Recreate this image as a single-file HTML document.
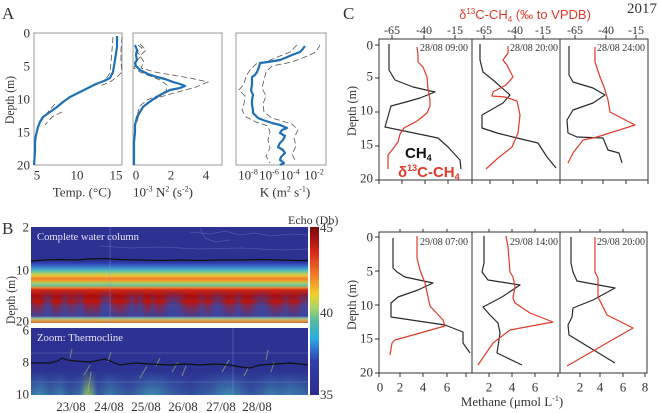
<!DOCTYPE html>
<html><head><meta charset="utf-8"><style>
html,body{margin:0;padding:0;background:#fff;}
svg{display:block;}
.s{font-family:"Liberation Serif",serif;fill:#333;}
.a{font-family:"Liberation Sans",sans-serif;}
</style></head><body>
<svg width="658" height="413" viewBox="0 0 658 413" xmlns="http://www.w3.org/2000/svg">
<defs>
<linearGradient id="cb" x1="0" y1="0" x2="0" y2="1">
 <stop offset="0" stop-color="#7a0a0a"/>
 <stop offset="0.06" stop-color="#a01010"/>
 <stop offset="0.15" stop-color="#d82818"/>
 <stop offset="0.28" stop-color="#f07828"/>
 <stop offset="0.4" stop-color="#f0d028"/>
 <stop offset="0.48" stop-color="#a8d468"/>
 <stop offset="0.57" stop-color="#50b8a8"/>
 <stop offset="0.66" stop-color="#28b0e0"/>
 <stop offset="0.73" stop-color="#3070d0"/>
 <stop offset="0.8" stop-color="#3040a8"/>
 <stop offset="1" stop-color="#2c2c8a"/>
</linearGradient>
<linearGradient id="eb" gradientUnits="userSpaceOnUse" x1="0" y1="258" x2="0" y2="323">
 <stop offset="0" stop-color="#2d3192"/>
 <stop offset="0.046" stop-color="#2d3192"/>
 <stop offset="0.092" stop-color="#3448b8"/>
 <stop offset="0.154" stop-color="#3890d0"/>
 <stop offset="0.2" stop-color="#58c0b0"/>
 <stop offset="0.246" stop-color="#b8d058"/>
 <stop offset="0.277" stop-color="#f0c038"/>
 <stop offset="0.315" stop-color="#f08028"/>
 <stop offset="0.354" stop-color="#e8a030"/>
 <stop offset="0.385" stop-color="#a8d060"/>
 <stop offset="0.423" stop-color="#60c0a8"/>
 <stop offset="0.454" stop-color="#e89030"/>
 <stop offset="0.492" stop-color="#d02818"/>
 <stop offset="0.585" stop-color="#a80c0c"/>
 <stop offset="0.677" stop-color="#b81812"/>
 <stop offset="0.723" stop-color="#3a4aa8"/>
 <stop offset="0.892" stop-color="#3545a5"/>
 <stop offset="0.923" stop-color="#80c0b0"/>
 <stop offset="0.954" stop-color="#e0b050"/>
 <stop offset="1" stop-color="#c07038"/>
</linearGradient>
<linearGradient id="pl" gradientUnits="userSpaceOnUse" x1="31" y1="0" x2="308" y2="0">
 <stop offset="0" stop-color="#b81410" stop-opacity=".6"/>
 <stop offset=".018" stop-color="#b81410" stop-opacity="1"/>
 <stop offset=".036" stop-color="#b81410" stop-opacity=".9"/>
 <stop offset=".054" stop-color="#b81410" stop-opacity=".2"/>
 <stop offset=".069" stop-color="#b81410" stop-opacity=".3"/>
 <stop offset=".087" stop-color="#b81410" stop-opacity="1"/>
 <stop offset=".105" stop-color="#b81410" stop-opacity=".8"/>
 <stop offset=".119" stop-color="#b81410" stop-opacity=".2"/>
 <stop offset=".141" stop-color="#b81410" stop-opacity=".7"/>
 <stop offset=".162" stop-color="#b81410" stop-opacity=".5"/>
 <stop offset=".184" stop-color="#b81410" stop-opacity=".3"/>
 <stop offset=".199" stop-color="#b81410" stop-opacity="1"/>
 <stop offset=".242" stop-color="#b81410" stop-opacity="1"/>
 <stop offset=".256" stop-color="#b81410" stop-opacity=".2"/>
 <stop offset=".278" stop-color="#b81410" stop-opacity=".1"/>
 <stop offset=".3" stop-color="#b81410" stop-opacity=".8"/>
 <stop offset=".321" stop-color="#b81410" stop-opacity="1"/>
 <stop offset=".343" stop-color="#b81410" stop-opacity=".7"/>
 <stop offset=".361" stop-color="#b81410" stop-opacity=".2"/>
 <stop offset=".383" stop-color="#b81410" stop-opacity=".5"/>
 <stop offset=".397" stop-color="#b81410" stop-opacity=".2"/>
 <stop offset=".415" stop-color="#b81410" stop-opacity="1"/>
 <stop offset=".426" stop-color="#b81410" stop-opacity="1"/>
 <stop offset=".437" stop-color="#b81410" stop-opacity=".4"/>
 <stop offset=".455" stop-color="#b81410" stop-opacity=".9"/>
 <stop offset=".477" stop-color="#b81410" stop-opacity=".8"/>
 <stop offset=".495" stop-color="#b81410" stop-opacity=".2"/>
 <stop offset=".516" stop-color="#b81410" stop-opacity=".1"/>
 <stop offset=".538" stop-color="#b81410" stop-opacity=".3"/>
 <stop offset=".56" stop-color="#b81410" stop-opacity=".9"/>
 <stop offset=".581" stop-color="#b81410" stop-opacity="1"/>
 <stop offset=".603" stop-color="#b81410" stop-opacity=".8"/>
 <stop offset=".617" stop-color="#b81410" stop-opacity=".3"/>
 <stop offset=".632" stop-color="#b81410" stop-opacity=".8"/>
 <stop offset=".65" stop-color="#b81410" stop-opacity=".6"/>
 <stop offset=".668" stop-color="#b81410" stop-opacity=".1"/>
 <stop offset=".69" stop-color="#b81410" stop-opacity=".3"/>
 <stop offset=".711" stop-color="#b81410" stop-opacity=".9"/>
 <stop offset=".733" stop-color="#b81410" stop-opacity=".7"/>
 <stop offset=".747" stop-color="#b81410" stop-opacity=".2"/>
 <stop offset=".765" stop-color="#b81410" stop-opacity=".8"/>
 <stop offset=".791" stop-color="#b81410" stop-opacity=".9"/>
 <stop offset=".812" stop-color="#b81410" stop-opacity=".3"/>
 <stop offset=".834" stop-color="#b81410" stop-opacity=".1"/>
 <stop offset=".856" stop-color="#b81410" stop-opacity=".4"/>
 <stop offset=".877" stop-color="#b81410" stop-opacity=".9"/>
 <stop offset=".899" stop-color="#b81410" stop-opacity=".8"/>
 <stop offset=".921" stop-color="#b81410" stop-opacity=".3"/>
 <stop offset=".939" stop-color="#b81410" stop-opacity=".8"/>
 <stop offset=".96" stop-color="#b81410" stop-opacity=".7"/>
 <stop offset=".978" stop-color="#b81410" stop-opacity=".2"/>
 <stop offset="1" stop-color="#b81410" stop-opacity=".1"/>
</linearGradient>
<linearGradient id="gp" gradientUnits="userSpaceOnUse" x1="31" y1="0" x2="308" y2="0">
 <stop offset="0" stop-color="#3545a5" stop-opacity=".4"/>
 <stop offset=".018" stop-color="#3545a5" stop-opacity="0"/>
 <stop offset=".036" stop-color="#3545a5" stop-opacity=".1"/>
 <stop offset=".054" stop-color="#3545a5" stop-opacity=".8"/>
 <stop offset=".069" stop-color="#3545a5" stop-opacity=".7"/>
 <stop offset=".087" stop-color="#3545a5" stop-opacity="0"/>
 <stop offset=".105" stop-color="#3545a5" stop-opacity=".2"/>
 <stop offset=".119" stop-color="#3545a5" stop-opacity=".8"/>
 <stop offset=".141" stop-color="#3545a5" stop-opacity=".3"/>
 <stop offset=".162" stop-color="#3545a5" stop-opacity=".5"/>
 <stop offset=".184" stop-color="#3545a5" stop-opacity=".7"/>
 <stop offset=".199" stop-color="#3545a5" stop-opacity="0"/>
 <stop offset=".242" stop-color="#3545a5" stop-opacity="0"/>
 <stop offset=".256" stop-color="#3545a5" stop-opacity=".8"/>
 <stop offset=".278" stop-color="#3545a5" stop-opacity=".9"/>
 <stop offset=".3" stop-color="#3545a5" stop-opacity=".2"/>
 <stop offset=".321" stop-color="#3545a5" stop-opacity="0"/>
 <stop offset=".343" stop-color="#3545a5" stop-opacity=".3"/>
 <stop offset=".361" stop-color="#3545a5" stop-opacity=".8"/>
 <stop offset=".383" stop-color="#3545a5" stop-opacity=".5"/>
 <stop offset=".397" stop-color="#3545a5" stop-opacity=".8"/>
 <stop offset=".415" stop-color="#3545a5" stop-opacity="0"/>
 <stop offset=".426" stop-color="#3545a5" stop-opacity="0"/>
 <stop offset=".437" stop-color="#3545a5" stop-opacity=".6"/>
 <stop offset=".455" stop-color="#3545a5" stop-opacity=".1"/>
 <stop offset=".477" stop-color="#3545a5" stop-opacity=".2"/>
 <stop offset=".495" stop-color="#3545a5" stop-opacity=".8"/>
 <stop offset=".516" stop-color="#3545a5" stop-opacity=".9"/>
 <stop offset=".538" stop-color="#3545a5" stop-opacity=".7"/>
 <stop offset=".56" stop-color="#3545a5" stop-opacity=".1"/>
 <stop offset=".581" stop-color="#3545a5" stop-opacity="0"/>
 <stop offset=".603" stop-color="#3545a5" stop-opacity=".2"/>
 <stop offset=".617" stop-color="#3545a5" stop-opacity=".7"/>
 <stop offset=".632" stop-color="#3545a5" stop-opacity=".2"/>
 <stop offset=".65" stop-color="#3545a5" stop-opacity=".4"/>
 <stop offset=".668" stop-color="#3545a5" stop-opacity=".9"/>
 <stop offset=".69" stop-color="#3545a5" stop-opacity=".7"/>
 <stop offset=".711" stop-color="#3545a5" stop-opacity=".1"/>
 <stop offset=".733" stop-color="#3545a5" stop-opacity=".3"/>
 <stop offset=".747" stop-color="#3545a5" stop-opacity=".8"/>
 <stop offset=".765" stop-color="#3545a5" stop-opacity=".2"/>
 <stop offset=".791" stop-color="#3545a5" stop-opacity=".1"/>
 <stop offset=".812" stop-color="#3545a5" stop-opacity=".7"/>
 <stop offset=".834" stop-color="#3545a5" stop-opacity=".9"/>
 <stop offset=".856" stop-color="#3545a5" stop-opacity=".6"/>
 <stop offset=".877" stop-color="#3545a5" stop-opacity=".1"/>
 <stop offset=".899" stop-color="#3545a5" stop-opacity=".2"/>
 <stop offset=".921" stop-color="#3545a5" stop-opacity=".7"/>
 <stop offset=".939" stop-color="#3545a5" stop-opacity=".2"/>
 <stop offset=".96" stop-color="#3545a5" stop-opacity=".3"/>
 <stop offset=".978" stop-color="#3545a5" stop-opacity=".8"/>
 <stop offset="1" stop-color="#3545a5" stop-opacity=".9"/>
</linearGradient>
<linearGradient id="vf1" gradientUnits="userSpaceOnUse" x1="0" y1="300" x2="0" y2="319">
 <stop offset="0" stop-color="#fff"/>
 <stop offset="1" stop-color="#000"/>
</linearGradient>
<mask id="m1"><rect x="31" y="300" width="277" height="19" fill="url(#vf1)"/></mask>
<linearGradient id="vf3" gradientUnits="userSpaceOnUse" x1="0" y1="290" x2="0" y2="304">
 <stop offset="0" stop-color="#000"/>
 <stop offset="1" stop-color="#fff"/>
</linearGradient>
<mask id="m3"><rect x="31" y="288" width="277" height="16" fill="url(#vf3)"/></mask>
<linearGradient id="sp" gradientUnits="userSpaceOnUse" x1="31" y1="0" x2="308" y2="0">
 <stop offset="0" stop-color="#48b0c0" stop-opacity=".5"/>
 <stop offset=".032" stop-color="#48b0c0" stop-opacity=".7"/>
 <stop offset=".069" stop-color="#48b0c0" stop-opacity=".4"/>
 <stop offset=".105" stop-color="#48b0c0" stop-opacity=".6"/>
 <stop offset=".141" stop-color="#48b0c0" stop-opacity=".3"/>
 <stop offset=".177" stop-color="#48b0c0" stop-opacity=".5"/>
 <stop offset=".199" stop-color="#90c860" stop-opacity=".9"/>
 <stop offset=".22" stop-color="#80c070" stop-opacity=".8"/>
 <stop offset=".242" stop-color="#48b0c0" stop-opacity=".3"/>
 <stop offset=".285" stop-color="#48b0c0" stop-opacity=".6"/>
 <stop offset=".321" stop-color="#48b0c0" stop-opacity=".4"/>
 <stop offset=".357" stop-color="#48b0c0" stop-opacity=".3"/>
 <stop offset=".393" stop-color="#48b0c0" stop-opacity=".5"/>
 <stop offset=".43" stop-color="#48b0c0" stop-opacity=".7"/>
 <stop offset=".466" stop-color="#48b0c0" stop-opacity=".6"/>
 <stop offset=".502" stop-color="#48b0c0" stop-opacity=".4"/>
 <stop offset=".538" stop-color="#48b0c0" stop-opacity=".3"/>
 <stop offset=".574" stop-color="#48b0c0" stop-opacity=".2"/>
 <stop offset=".61" stop-color="#48b0c0" stop-opacity=".3"/>
 <stop offset=".646" stop-color="#48b0c0" stop-opacity=".4"/>
 <stop offset=".682" stop-color="#48b0c0" stop-opacity=".6"/>
 <stop offset=".718" stop-color="#48b0c0" stop-opacity=".7"/>
 <stop offset=".754" stop-color="#48b0c0" stop-opacity=".5"/>
 <stop offset=".79" stop-color="#48b0c0" stop-opacity=".3"/>
 <stop offset=".827" stop-color="#48b0c0" stop-opacity=".4"/>
 <stop offset=".863" stop-color="#48b0c0" stop-opacity=".6"/>
 <stop offset=".899" stop-color="#48b0c0" stop-opacity=".5"/>
 <stop offset=".935" stop-color="#48b0c0" stop-opacity=".6"/>
 <stop offset=".971" stop-color="#48b0c0" stop-opacity=".5"/>
 <stop offset="1" stop-color="#48b0c0" stop-opacity=".4"/>
</linearGradient>
<linearGradient id="vf2" gradientUnits="userSpaceOnUse" x1="0" y1="370" x2="0" y2="395">
 <stop offset="0" stop-color="#000"/>
 <stop offset="1" stop-color="#fff"/>
</linearGradient>
<mask id="m2"><rect x="31" y="370" width="277" height="25" fill="url(#vf2)"/></mask>
</defs>

<!-- ============ PANEL A ============ -->
<text class="s" x="2" y="19" font-size="17">A</text>
<text class="s" font-size="13" transform="translate(14,100) rotate(-90)" text-anchor="middle" textLength="48" lengthAdjust="spacingAndGlyphs">Depth (m)</text>
<g class="s" font-size="13" text-anchor="end">
 <text x="30" y="37.5">0</text><text x="30" y="70.5">5</text><text x="30" y="103.5">10</text><text x="30" y="136.5">15</text><text x="30" y="169.5">20</text>
</g>
<g fill="none" stroke="#999" stroke-width="1">
 <rect x="34" y="33" width="88" height="132"/>
 <rect x="133" y="33" width="89" height="132"/>
 <rect x="236" y="33" width="90" height="132"/>
</g>
<g class="s" font-size="13" text-anchor="middle">
 <text x="37" y="179.5">5</text><text x="77" y="179.5">10</text><text x="116" y="179.5">15</text>
 <text x="136" y="179.5">0</text><text x="171" y="179.5">2</text><text x="206" y="179.5">4</text>
 <text x="248" y="179.5">10<tspan font-size="8" dy="-5">-8</tspan></text>
 <text x="269" y="179.5">10<tspan font-size="8" dy="-5">-6</tspan></text>
 <text x="290" y="179.5">10<tspan font-size="8" dy="-5">-4</tspan></text>
 <text x="314" y="179.5">10<tspan font-size="8" dy="-5">-2</tspan></text>
 <text x="82" y="196.5">Temp. (°C)</text>
 <text x="163" y="196.5">10<tspan font-size="8" dy="-5">-3</tspan><tspan dy="5"> N</tspan><tspan font-size="8" dy="-5">2</tspan><tspan dy="5"> (s</tspan><tspan font-size="8" dy="-5">-2</tspan><tspan dy="5">)</tspan></text>
 <text x="285" y="196.5">K (m<tspan font-size="8" dy="-5">2</tspan><tspan dy="5"> s</tspan><tspan font-size="8" dy="-5">-1</tspan><tspan dy="5">)</tspan></text>
</g>
<g fill="none" stroke="#555" stroke-width="0.8" stroke-dasharray="6,3">
 <polyline points="113,37 112,50 111,62 110,73 105,80 95,85"/>
 <polyline points="122,37 121,50 121,62 122,72 117,77 110,82 100,86"/>
 <polyline points="55,104 48,112 41,120"/>
 <polyline points="62,112 52,117 45,125"/>
 <polyline points="138,45 142,48 137,52 141,56 136,62 134,68 140,72 150,76 160,80 167,85 166,91 157,96 147,100 140,106 138,112 137,118"/>
 <polyline points="140,44 146,50 140,56 144,62 141,68 155,72 172,75 190,78 208,82 196,87 178,92 160,97 148,102 142,108 139,114 137,122"/>
 <polyline points="297,45 290,52 280,56 268,61 256,64 250,70 246,76 244,84 239,90 245,96 244,104 242,110 246,117 256,122 268,126 270,132 268,140 270,148 266,156 270,163"/>
 <polyline points="320,45 316,52 305,57 292,62 272,66 266,72 264,80 262,88 266,96 263,104 264,112 272,118 292,124 298,130 294,138 296,146 292,154 296,162"/>
</g>
<g fill="none" stroke="#1f6fb5" stroke-width="2.2" stroke-linejoin="round">
 <polyline points="117,36 117,47 115,60 113,72 110,78 104,81 96,84 90,87 80,92 70,97 63,102 57,107 50,112 43,117 40,122 38,127 36,135 35,142 35,152 34,165"/>
 <polyline points="135,45 137,50 136,55 137,60 135,63 136,66 140,70 148,74 157,77 165,79 173,82 180,84 185,86 180,88 170,90 162,94 155,98 148,103 143,107 140,112 137,117 135,125 135,132 134,142 134,165"/>
 <polyline points="305,46 302,50 300,52 292,55 285,58 280,60 268,62 260,63 259,67 257,72 255,75 252,77 252,85 251,90 253,95 252,100 252,105 253,110 253,113 258,118 263,120 272,123 280,125 287,128 282,130 280,133 285,136 283,140 280,143 278,147 283,150 285,153 281,157 280,160 284,163 280,165"/>
</g>

<!-- ============ PANEL B ============ -->
<text class="s" x="2" y="234" font-size="17">B</text>
<text class="s" font-size="13" transform="translate(15,300) rotate(-90)" text-anchor="middle" textLength="48" lengthAdjust="spacingAndGlyphs">Depth (m)</text>
<g class="s" font-size="13" text-anchor="end">
 <text x="29" y="231.5">2</text><text x="29" y="274.5">10</text><text x="29" y="325.5">20</text>
 <text x="29" y="334.5">6</text><text x="29" y="366.5">8</text><text x="29" y="398.5">10</text>
</g>
<rect x="31" y="227" width="277" height="96" fill="#2d3192"/>
<rect x="31" y="258" width="277" height="65" fill="url(#eb)"/>
<rect x="31" y="288" width="277" height="16" fill="url(#gp)" mask="url(#m3)"/>
<rect x="31" y="300" width="277" height="19" fill="url(#pl)" mask="url(#m1)"/>
<g fill="none" stroke="#5d68b8" stroke-width="0.8" opacity="0.7">
 <polyline points="190,232 210,234 225,231 240,235 255,233 270,236 290,234 308,235"/>
 <polyline points="100,246 130,248 160,247 200,249 240,248 280,250 308,249"/>
 <polyline points="200,228 205,238 215,242 230,240"/>
</g>
<line x1="110" y1="227" x2="110" y2="323" stroke="#9098d8" stroke-width="0.7" opacity="0.5"/>
<polyline fill="none" stroke="#111" stroke-width="1.2" points="31,261 45,260 60,259.5 75,260 90,259 105,258.5 120,259.5 140,260 160,260.5 180,260 200,260.5 220,260 240,260 260,259.5 280,260 295,260.5 308,260.5"/>
<text class="s" x="37" y="240" font-size="11" textLength="102" lengthAdjust="spacingAndGlyphs" style="fill:#e4e4f6">Complete water column</text>
<rect x="31" y="328" width="277" height="67" fill="#2d3192"/>
<rect x="31" y="370" width="277" height="25" fill="url(#sp)" mask="url(#m2)"/>
<g stroke="#a8c870" stroke-width="1.1" opacity="0.55">
 <line x1="84" y1="375" x2="90" y2="365"/><line x1="88" y1="392" x2="91" y2="372"/>
 <line x1="70" y1="358" x2="72" y2="349"/><line x1="108" y1="362" x2="111" y2="352"/>
 <line x1="140" y1="378" x2="147" y2="366"/><line x1="172" y1="372" x2="178" y2="362"/>
 <line x1="182" y1="376" x2="186" y2="366"/><line x1="222" y1="372" x2="229" y2="360"/>
 <line x1="244" y1="376" x2="248" y2="368"/><line x1="266" y1="360" x2="268" y2="350"/>
 <line x1="271" y1="372" x2="274" y2="362"/><line x1="156" y1="366" x2="160" y2="358"/>
</g>
<g stroke="#6e78c0" stroke-width="0.8" opacity="0.6">
 <line x1="31" y1="353" x2="308" y2="353"/>
 <line x1="31" y1="382" x2="308" y2="382"/>
</g>
<line x1="233" y1="328" x2="233" y2="395" stroke="#9098d8" stroke-width="0.7" opacity="0.5"/>
<polyline fill="none" stroke="#111" stroke-width="1.2" points="31,363 40,363 50,363 58,361 62,358 67,360 75,361 90,362 100,360 105,359 110,361 120,365 135,363 150,364 170,365 185,364 200,365 215,364 230,365 240,367 250,368 260,365 275,364 290,363 300,364 308,365"/>
<text class="s" x="37" y="341" font-size="11" textLength="86" lengthAdjust="spacingAndGlyphs" style="fill:#e4e4f6">Zoom: Thermocline</text>
<g class="s" font-size="13" text-anchor="middle">
 <text x="71" y="411">23/08</text><text x="109" y="411">24/08</text><text x="146" y="411">25/08</text>
 <text x="183" y="411">26/08</text><text x="221" y="411">27/08</text><text x="257" y="411">28/08</text>
</g>
<rect x="310" y="227" width="9" height="168" fill="url(#cb)"/>
<text class="s" x="288" y="224" font-size="12">Echo (Db)</text>
<g class="s" font-size="13">
 <text x="320" y="232">45</text><text x="320" y="317">40</text><text x="320" y="399">35</text>
</g>

<!-- ============ PANEL C ============ -->
<text class="s" x="343" y="19" font-size="17">C</text>
<text class="s" x="627" y="13" font-size="15">2017</text>
<text class="a" x="525" y="19" font-size="13" text-anchor="middle" fill="#e03a2a">δ<tspan font-size="8" dy="-5">13</tspan><tspan dy="5">C-CH</tspan><tspan font-size="8" dy="3">4</tspan><tspan dy="-3"> (‰ to VPDB)</tspan></text>
<g class="s" font-size="12" text-anchor="middle">
 <text x="392" y="34">-65</text><text x="424" y="34">-40</text><text x="455" y="34">-15</text>
 <text x="484" y="34">-65</text><text x="515" y="34">-40</text><text x="543" y="34">-15</text>
 <text x="575" y="34">-65</text><text x="606" y="34">-40</text><text x="636" y="34">-15</text>
</g>
<text class="s" font-size="13" transform="translate(356,111) rotate(-90)" text-anchor="middle" textLength="50" lengthAdjust="spacingAndGlyphs">Depth (m)</text>
<text class="s" font-size="13" transform="translate(356,305) rotate(-90)" text-anchor="middle" textLength="50" lengthAdjust="spacingAndGlyphs">Depth (m)</text>
<g class="s" font-size="13" text-anchor="end">
 <text x="373" y="49.5">0</text><text x="373" y="80.5">5</text><text x="373" y="114.5">10</text><text x="373" y="148.5">15</text><text x="373" y="182.5">20</text>
 <text x="373" y="241.5">0</text><text x="373" y="275.5">5</text><text x="373" y="309.5">10</text><text x="373" y="342.5">15</text><text x="373" y="376.5">20</text>
</g>
<g class="s" font-size="13" text-anchor="middle">
 <text x="380" y="391.5">0</text><text x="400" y="391.5">2</text><text x="423" y="391.5">4</text><text x="447" y="391.5">6</text>
 <text x="489" y="391.5">2</text><text x="512" y="391.5">4</text><text x="535" y="391.5">6</text>
 <text x="580" y="391.5">2</text><text x="600" y="391.5">4</text><text x="623" y="391.5">6</text><text x="645" y="391.5">8</text>
 <text x="512" y="406">Methane (μmol L<tspan font-size="8" dy="-5">-1</tspan><tspan dy="5">)</tspan></text>
</g>
<g fill="none" stroke="#333" stroke-width="1">
 <rect x="379" y="39" width="269" height="141"/>
 <line x1="472" y1="39" x2="472" y2="180"/><line x1="560" y1="39" x2="560" y2="180"/>
 <rect x="379" y="232" width="268" height="141"/>
 <line x1="472" y1="232" x2="472" y2="373"/><line x1="560" y1="232" x2="560" y2="373"/>
 <path d="M392,39v-4M424,39v-4M455,39v-4M484,39v-4M515,39v-4M543,39v-4M575,39v-4M606,39v-4M636,39v-4"/>
 <path d="M379,180v4M402,180v4M425,180v4M448,180v4M472,180v4M490,180v4M513,180v4M537,180v4M560,180v4M582,180v4M603,180v4M626,180v4M648,180v4"/>
 <path d="M379,45h-4M379,78h-4M379,112h-4M379,146h-4M379,180h-4"/>
 <path d="M379,237h-4M379,271h-4M379,305h-4M379,339h-4M379,373h-4"/>
 <path d="M400,232v-3M423,232v-3M447,232v-3M489,232v-3M512,232v-3M535,232v-3M580,232v-3M600,232v-3M623,232v-3"/>
 <path d="M379,373v4M400,373v4M423,373v4M447,373v4M466,373v4M489,373v4M512,373v4M535,373v4M558,373v4M580,373v4M600,373v4M623,373v4M645,373v4"/>
</g>
<g class="s" font-size="10">
 <text x="420" y="51">28/08  09:00</text><text x="510" y="51">28/08  20:00</text><text x="597" y="51">28/08  24:00</text>
 <text x="420" y="245">29/08  07:00</text><text x="510" y="245">29/08  14:00</text><text x="597" y="245">29/08  20:00</text>
</g>
<g fill="none" stroke="#2a2a2a" stroke-width="1.2" stroke-linejoin="round">
 <polyline points="389,44 389,70 395,80 413,87 435,92 420,98 406,102 391,106 385,127 438,138 448,147 460,160 461,169"/>
 <polyline points="480,44 480,60 483,72 493,80 510,95 503,103 482,115 482,128 497,133 517,138 538,143 547,157 556,168"/>
 <polyline points="569,46 569,75 573,82 593,88 605,95 593,103 573,110 567,120 568,133 577,137 603,138 608,150 619,153 622,163"/>
 <polyline points="393,238 393,268 397,272 405,277 433,283 418,290 398,297 391,303 391,317 445,325 463,332 463,343 470,353"/>
 <polyline points="484,236 484,263 482,272 488,280 520,285 502,297 483,307 490,315 498,323 500,333 497,353 522,365"/>
 <polyline points="571,237 571,263 573,272 577,281 615,288 593,300 573,308 572,317 568,325 569,335 615,363"/>
</g>
<g fill="none" stroke="#e03a2a" stroke-width="1.2" stroke-linejoin="round">
 <polyline points="417,47 418,55 418,62 423,67 427,77 428,89 430,100 430,106 427,113 417,121 404,128 400,134 398,142 392,150 388,155 388,169"/>
 <polyline points="508,46 508,53 503,60 507,65 513,77 506,85 493,92 492,96 505,97 517,101 520,115 518,133 512,147 498,158 486,169"/>
 <polyline points="595,47 595,62 600,77 604,87 608,100 610,112 635,125 597,137 583,140 573,153 568,163"/>
 <polyline points="417,236 417,258 420,270 425,283 428,297 430,306 443,320 445,326 395,340 392,343 390,355"/>
 <polyline points="506,236 508,247 510,272 513,277 515,287 513,298 515,303 530,313 553,322 510,330 493,343 478,365"/>
 <polyline points="595,237 595,245 595,272 598,278 598,297 607,315 633,328 567,366"/>
</g>
<text class="a" x="405" y="158" font-size="15" font-weight="bold" fill="#111">CH<tspan font-size="9" dy="3">4</tspan></text>
<text class="a" x="398" y="177" font-size="15" font-weight="bold" fill="#e03a2a">δ<tspan font-size="9" dy="-6">13</tspan><tspan dy="6">C-CH</tspan><tspan font-size="9" dy="3">4</tspan></text>
</svg>
</body></html>
